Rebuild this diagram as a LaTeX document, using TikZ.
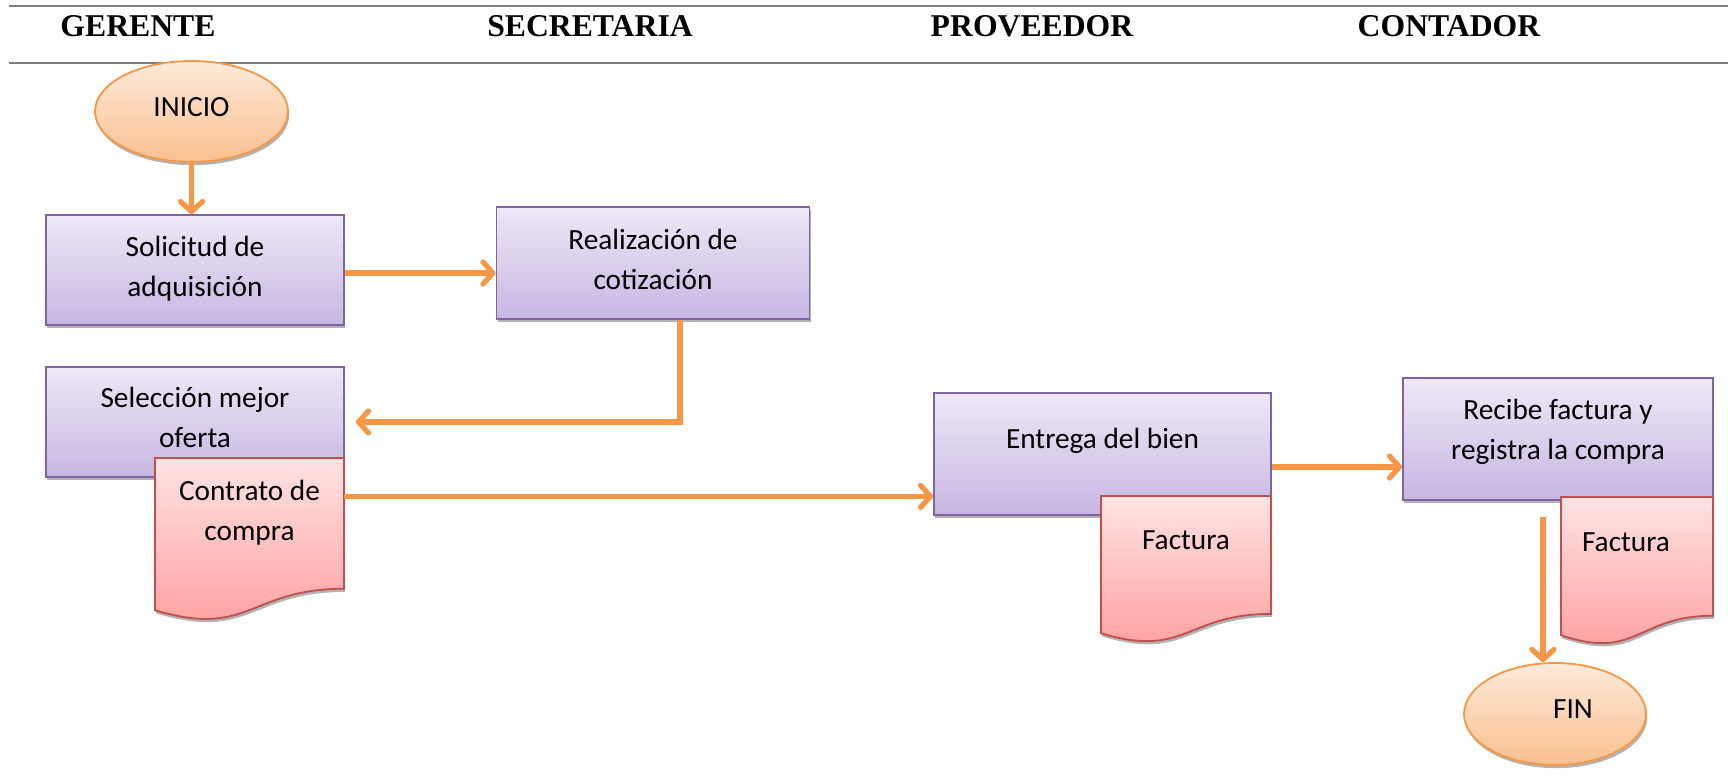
\documentclass[tikz,border=0pt]{standalone}
\usepackage{fontspec}
\setmainfont{Carlito}
\newfontfamily\hdrfont{Liberation Serif}
\usetikzlibrary{arrows.meta,shapes.geometric,shadows,calc}
\definecolor{lanegray}{HTML}{7F7F7F}
\definecolor{boxtop}{HTML}{EEE8F6}
\definecolor{boxbot}{HTML}{C7B6E2}
\definecolor{boxline}{HTML}{8064A2}
\definecolor{doctop}{HTML}{FFE3E3}
\definecolor{docbot}{HTML}{FF9C9C}
\definecolor{docline}{HTML}{C0504D}
\definecolor{elltop}{HTML}{FDEADA}
\definecolor{ellbot}{HTML}{FAC08F}
\definecolor{orng}{HTML}{F79646}
\newcommand{\bodyfont}{\fontsize{14.65pt}{20pt}\selectfont}
\tikzset{
  softshadow/.style={drop shadow={shadow xshift=0.6pt,shadow yshift=-1.6pt,opacity=0.3,fill=black}},
  lane/.style={draw=lanegray,line width=1.1pt},
  lanehead/.style={font=\hdrfont\bfseries\fontsize{15.85pt}{19pt}\selectfont,anchor=base,inner sep=0pt},
  procbox/.style={rectangle,draw=boxline,line width=0.9pt,top color=boxtop,bottom color=boxbot,
    inner sep=0pt,align=flush center,font=\bodyfont,softshadow},
  termin/.style={ellipse,draw=orng,line width=0.9pt,top color=elltop,bottom color=ellbot,
    inner sep=0pt,font=\bodyfont,softshadow},
  docshape/.style={draw=docline,line width=0.9pt,top color=doctop,bottom color=docbot,softshadow},
  doctext/.style={inner sep=0pt,align=flush center,font=\bodyfont},
  flow/.style={draw=orng,line width=2.6pt,-{Straight Barb[length=5pt,width=11pt,round]}},
}
\newcommand{\docdraw}[4]{%
  \path[docshape] (#1,#2) -- (#1+#3,#2) -- (#1+#3,#2+0.802*#4)
    .. controls (#1+0.5*#3,#2+0.802*#4) and (#1+0.5*#3,#2+1.1075*#4) .. (#1,#2+0.934*#4) -- cycle;}
\begin{document}
\begin{tikzpicture}[x=0.5pt,y=-0.5pt]
\useasboundingbox (0,0) rectangle (1728,779);
% lanes
\draw[lane] (9,6) -- (1728,6);
\draw[lane] (9,63) -- (1728,63);
\node[lanehead] (h1) at (138,37) {GERENTE};
\node[lanehead] (h2) at (590,37) {SECRETARIA};
\node[lanehead] (h3) at (1032,37) {PROVEEDOR};
\node[lanehead] (h4) at (1449,37) {CONTADOR};
% shapes
\node[termin,minimum width=96.5pt,minimum height=50.5pt,text height=10pt,text depth=5pt] (inicio) at (191.5,111.5) {INICIO};
\node[procbox,minimum height=55pt,text width=149pt,text height=10pt,text depth=23pt] (solicitud) at (195,270) {Solicitud de\\adquisición};
\node[procbox,minimum height=56pt,text width=156.5pt,text height=10pt,text depth=23.3pt] (realizacion) at (653,263) {Realización de\\cotización};
\node[procbox,minimum height=55pt,text width=149pt,text height=10pt,text depth=24pt] (seleccion) at (195,422) {Selección mejor\\oferta};
\docdraw{155}{458}{189}{163}
\node[doctext,text width=94.5pt,text height=10pt,text depth=24pt,anchor=north] (contrato) at (249.5,480) {Contrato de\\compra};
\node[procbox,minimum width=168.5pt,minimum height=61pt,text height=10pt,text depth=15pt] (entrega) at (1102.5,454) {Entrega del bien};
\docdraw{1101}{496}{170}{147}
\node[doctext,anchor=base] (factura1) at (1186,550) {Factura};
\node[procbox,minimum height=61pt,text width=155pt,text height=10pt,text depth=29pt] (recibe) at (1558,439) {Recibe factura y\\registra la compra};
\docdraw{1561}{497}{152}{148}
\node[doctext,anchor=base] (factura2) at (1626,552) {Factura};
\node[termin,minimum width=91pt,minimum height=51pt,text height=10pt,text depth=6pt] (fin) at (1555,714) {\hspace*{18pt}FIN};
% connectors
\draw[flow] (inicio.south) -- (inicio.south |- solicitud.north);
\coordinate (s2) at ($(solicitud.east)+(0,3)$);
\draw[flow] (s2) -- (s2 -| realizacion.west);
\coordinate (s3) at ($(realizacion.south)+(27,0)$);
\coordinate (e3) at ($(seleccion.east)+(11,0)$);
\draw[flow] (s3) |- (e3);
\coordinate (s4) at ($(contrato.east)+(0,-18)$);
\draw[flow] (s4) -- (s4 -| entrega.west);
\coordinate (s5) at ($(entrega.east)+(0,13)$);
\draw[flow] (s5) -- (s5 -| recibe.west);
\coordinate (s6) at (1543,517);
\draw[flow] (s6) -- (s6 |- fin.north);
\end{tikzpicture}
\end{document}
